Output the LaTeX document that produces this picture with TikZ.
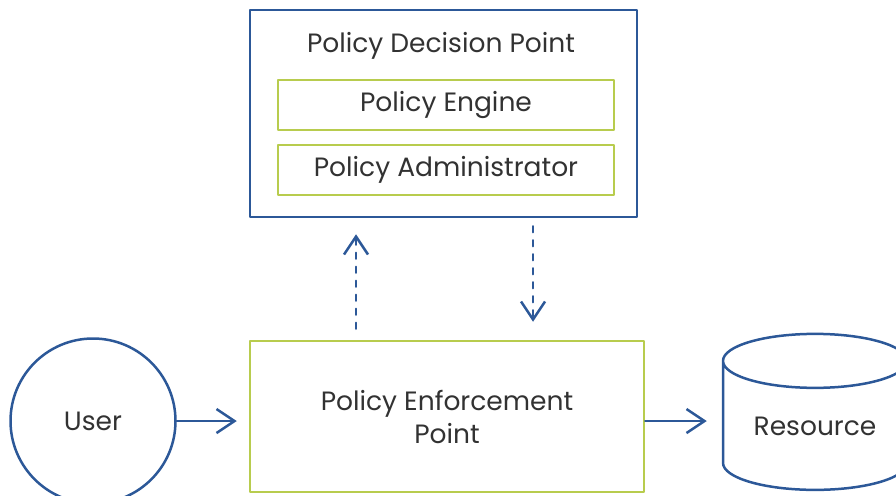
\documentclass[tikz,border=0pt]{standalone}
\usepackage{fontspec}
\setmainfont{Poppins}
\usetikzlibrary{arrows.meta,shapes.geometric}
\definecolor{zblue}{RGB}{44,88,152}
\definecolor{zgreen}{RGB}{184,204,78}
\definecolor{ztext}{RGB}{50,50,50}
\begin{document}
\begin{tikzpicture}[line cap=round,line join=round,x=1pt,y=-1pt,
  font=\fontsize{26.5}{33}\selectfont,text=ztext,
  >={Straight Barb[length=18pt,width=24pt,line width=2.5pt]},
  bluebox/.style={draw=zblue,line width=2.5pt,inner sep=0pt},
  greenbox/.style={draw=zgreen,line width=2.5pt,inner sep=0pt,align=center},
  flow/.style={->,draw=zblue,line width=2.5pt},
  signal/.style={flow,dash pattern=on 6pt off 8pt}]
\useasboundingbox (0,0) rectangle (896,495);
\node[bluebox,minimum width=387pt,minimum height=207pt] (pdp) at (443.5,113.5) {};
\node (pdptitle) at (441,46) {Policy Decision Point};
\node[greenbox,minimum width=336pt,minimum height=50pt] (engine) at (446,105) {Policy Engine};
\node[greenbox,minimum width=336pt,minimum height=50pt] (admin) at (446,170) {Policy Administrator};
\node[greenbox,minimum width=394pt,minimum height=151pt] (pep) at (447,416.5) {Policy Enforcement\\Point};
\node[bluebox,circle,minimum size=165pt] (user) at (93,421) {User};
\node[bluebox,cylinder,shape border rotate=90,aspect=0.44,minimum width=184pt,minimum height=156pt] (res) at (815,426) {Resource};
\draw[flow,shorten >=12pt] (user) -- (user -| pep.west);
\draw[flow,shorten >=15pt] (pep.east |- user) -- (res.west |- user);
\draw[signal,shorten <=11pt,shorten >=16pt] ([xshift=-91pt]pep.north) -- ([xshift=-91pt]pep.north |- pdp.south);
\draw[signal,shorten <=8pt,shorten >=18pt] ([xshift=86pt]pdp.south -| pep.north) -- ([xshift=86pt]pep.north);
\end{tikzpicture}
\end{document}
